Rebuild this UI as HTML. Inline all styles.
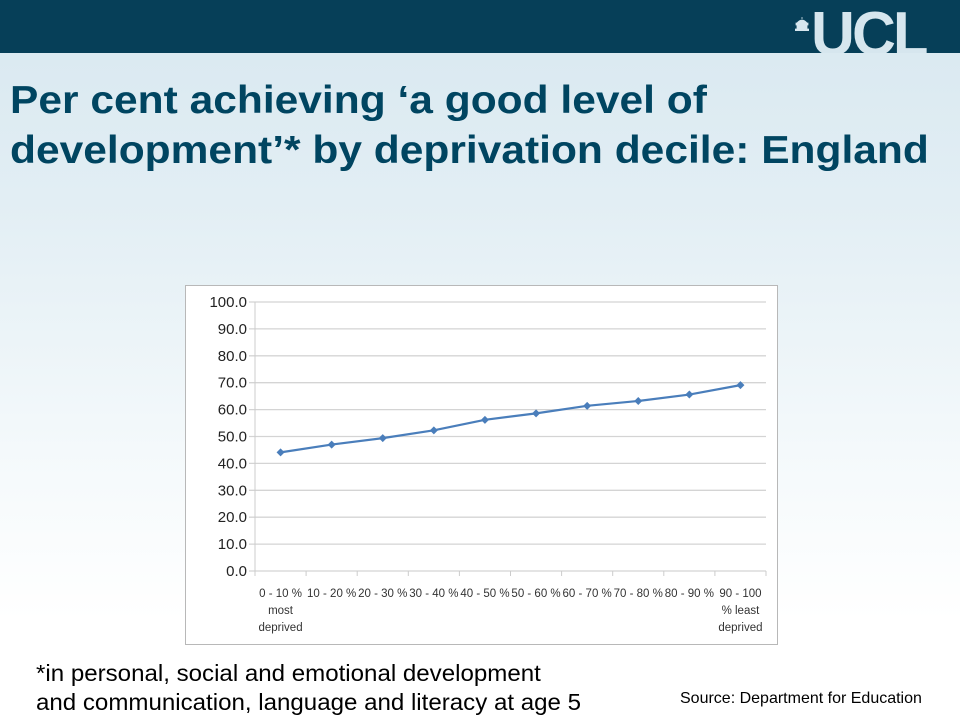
<!DOCTYPE html>
<html><head><meta charset="utf-8"><style>
body{margin:0;width:960px;height:720px;overflow:hidden;font-family:"Liberation Sans",sans-serif;background:linear-gradient(#d8e8f0 0px,#e2eef4 200px,#f4f9fb 450px,#ffffff 620px);position:relative}
#hdr{position:absolute;left:0;top:0;width:960px;height:53px;background:#063f58;overflow:hidden}
#logo{position:absolute;left:811px;top:0px;color:#d6e6ee;font-weight:bold;font-size:62px;letter-spacing:-3px;line-height:53px;height:53px;overflow:hidden;transform:scaleX(0.98);transform-origin:left}
#logo span{display:block;margin-top:8px}
#title{position:absolute;left:10px;top:76px;color:#004561;font-weight:bold;font-size:39px;line-height:50px;margin:0;transform:scaleX(1.09);transform-origin:left;white-space:nowrap}
.foot{position:absolute;left:36px;top:659px;font-size:23.5px;line-height:29px;color:#000;transform:scaleX(1.025);transform-origin:left;white-space:nowrap}
#src{position:absolute;left:680px;top:690px;font-size:16px;color:#000;white-space:nowrap}
</style></head><body>
<div id="hdr"></div>
<svg width="14" height="14" style="position:absolute;left:795px;top:17px"><path d="M7 0 L7 2 M2 6 Q7 0 12 6 Z M1 6 H13 V8 H1Z M2 8 H12 V12 H2Z M0 12 H14 V14 H0Z" fill="#d6e6ee" stroke="#d6e6ee" stroke-width="0.8"/></svg>
<div id="logo"><span>UCL</span></div>
<h1 id="title">Per cent achieving ‘a good level of<br>development’* by deprivation decile: England</h1>
<svg id="chart" width="960" height="720" style="position:absolute;left:0;top:0"></svg>
<div class="foot">*in personal, social and emotional development<br>and communication, language and literacy at age 5</div>
<div id="src">Source: Department for Education</div>
<script>
const categories=[["0 - 10 %","most","deprived"],["10 - 20 %"],["20 - 30 %"],["30 - 40 %"],["40 - 50 %"],["50 - 60 %"],["60 - 70 %"],["70 - 80 %"],["80 - 90 %"],["90 - 100","% least","deprived"]];
const values=[44.1,47.0,49.4,52.3,56.2,58.6,61.4,63.2,65.6,69.1];
const yTicks=[0,10,20,30,40,50,60,70,80,90,100];
const NS="http://www.w3.org/2000/svg";
const svg=document.getElementById('chart');
const L=255,R=766,T=302,B=571;
const x=i=>L+(i+0.5)*(R-L)/categories.length;
const y=v=>B-(v/100)*(B-T);
function mk(t,a){const e=document.createElementNS(NS,t);for(const k in a)e.setAttribute(k,a[k]);svg.appendChild(e);return e;}
const box=mk('rect',{x:185.5,y:285.5,width:592,height:359,fill:'#fff',stroke:'#b8b8b8'});


yTicks.forEach(v=>{
 const g=mk('line',{x1:L-6,x2:R,y1:y(v),y2:y(v),stroke:'#d4d4d4','stroke-width':1.3});
 
 
 const t=mk('text',{x:L-8,y:y(v)+5,'text-anchor':'end','font-size':15,fill:'#222'});
 t.textContent=v.toFixed(1);
 
 
});
mk('line',{x1:L,x2:L,y1:T,y2:B+5,stroke:'#ccc'});
categories.forEach((c,i)=>{
 const tx=L+(i+1)*(R-L)/categories.length;
 mk('line',{x1:tx,x2:tx,y1:B,y2:B+5,stroke:'#ccc'});
 c.forEach((s,j)=>{
  const t=mk('text',{x:x(i),y:B+26+j*17,'text-anchor':'middle','font-size':11.5,fill:'#333'});
  t.textContent=s;
  
  
 });
});
const line=mk('polyline',{points:values.map((v,i)=>x(i)+','+y(v)).join(' '),fill:'none',stroke:'#4a7ebb','stroke-width':2.2});


values.forEach((v,i)=>{
 const cx=x(i),cy=y(v);
 const p=mk('polygon',{points:`${cx},${cy-4} ${cx+4},${cy} ${cx},${cy+4} ${cx-4},${cy}`,fill:'#4a7ebb'});
 
 
});
</script>
</body></html>
